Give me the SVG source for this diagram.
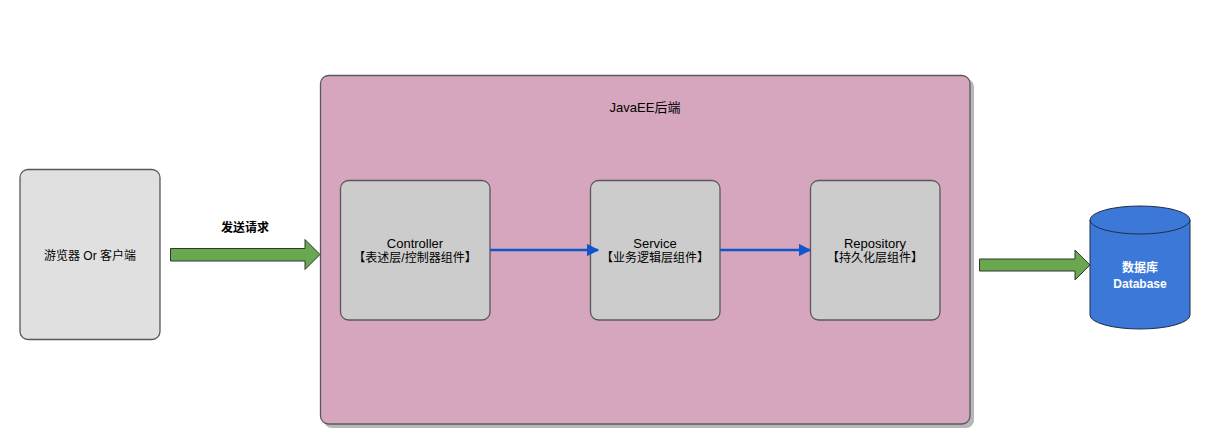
<svg xmlns="http://www.w3.org/2000/svg" width="1210" height="445" viewBox="0 0 1210 445">
<style>
text{font-family:"Liberation Sans","Noto Sans CJK SC",sans-serif;font-size:12px;fill:#000;text-anchor:middle}
.en{font-size:13px}
.box{stroke:#595959;stroke-width:1.3}
.layer{fill:#cccccc}
.fat{fill:#6aa84f;stroke:#333;stroke-width:1}
.link{stroke:#1155cc;stroke-width:2.5;fill:none}
</style>
<defs>
<marker id="ah" viewBox="0 0 10 10" refX="9" refY="5" markerWidth="5" markerHeight="5" markerUnits="strokeWidth" orient="auto">
<path d="M0,0 L10,5 L0,10 z" fill="#1155cc"/>
</marker>
</defs>
<rect width="1210" height="445" fill="#fff"/>
<g id="client">
<rect class="box" x="20" y="169.5" width="140" height="170" rx="8" fill="#e0e0e0"/>
<text x="90" y="260">游览器 Or 客户端</text>
</g>
<g id="backend">
<rect x="324" y="79" width="650" height="349" rx="8" fill="#b7b7b7"/>
<rect class="box" x="320.5" y="75.5" width="649.5" height="348.5" rx="8" fill="#d5a6bd"/>
<text class="en" x="645" y="112">JavaEE后端</text>
</g>
<g id="controller">
<rect class="box layer" x="340.5" y="180.5" width="149.5" height="139.5" rx="8"/>
<text class="en" x="415" y="248">Controller</text>
<text x="415" y="262">【表述层/控制器组件】</text>
</g>
<g id="service">
<rect class="box layer" x="590.5" y="180.5" width="129.5" height="139.5" rx="8"/>
<text class="en" x="655" y="248">Service</text>
<text x="655" y="262">【业务逻辑层组件】</text>
</g>
<g id="repository">
<rect class="box layer" x="810.5" y="180.5" width="129.5" height="139.5" rx="8"/>
<text class="en" x="875" y="248">Repository</text>
<text x="875" y="262">【持久化层组件】</text>
</g>
<g id="database">
<path d="M1090,220 L1090,315 A50,14 0 0 0 1190,315 L1190,220 A50,14 0 0 0 1090,220 Z" fill="#3c78d8" stroke="#1f2f4a" stroke-width="1"/>
<path d="M1090,220 A50,14 0 0 0 1190,220" fill="none" stroke="#1f2f4a" stroke-width="1"/>
<text x="1140" y="272" style="fill:#fff;font-weight:bold">数据库</text>
<text x="1140" y="288" style="fill:#fff;font-weight:bold">Database</text>
</g>
<g id="connectors">
<polygon class="fat" points="170.5,248.5 305,248.5 305,239.5 320,254.5 305,269.5 305,261 170.5,261"/>
<text x="245" y="232" style="font-weight:bold">发送请求</text>
<polygon class="fat" points="979.5,259 1075,259 1075,250 1090,265 1075,280 1075,271 979.5,271"/>
<line class="link" x1="490" y1="250" x2="598" y2="250" marker-end="url(#ah)"/>
<line class="link" x1="720" y1="250" x2="810" y2="250" marker-end="url(#ah)"/>
</g>
</svg>
